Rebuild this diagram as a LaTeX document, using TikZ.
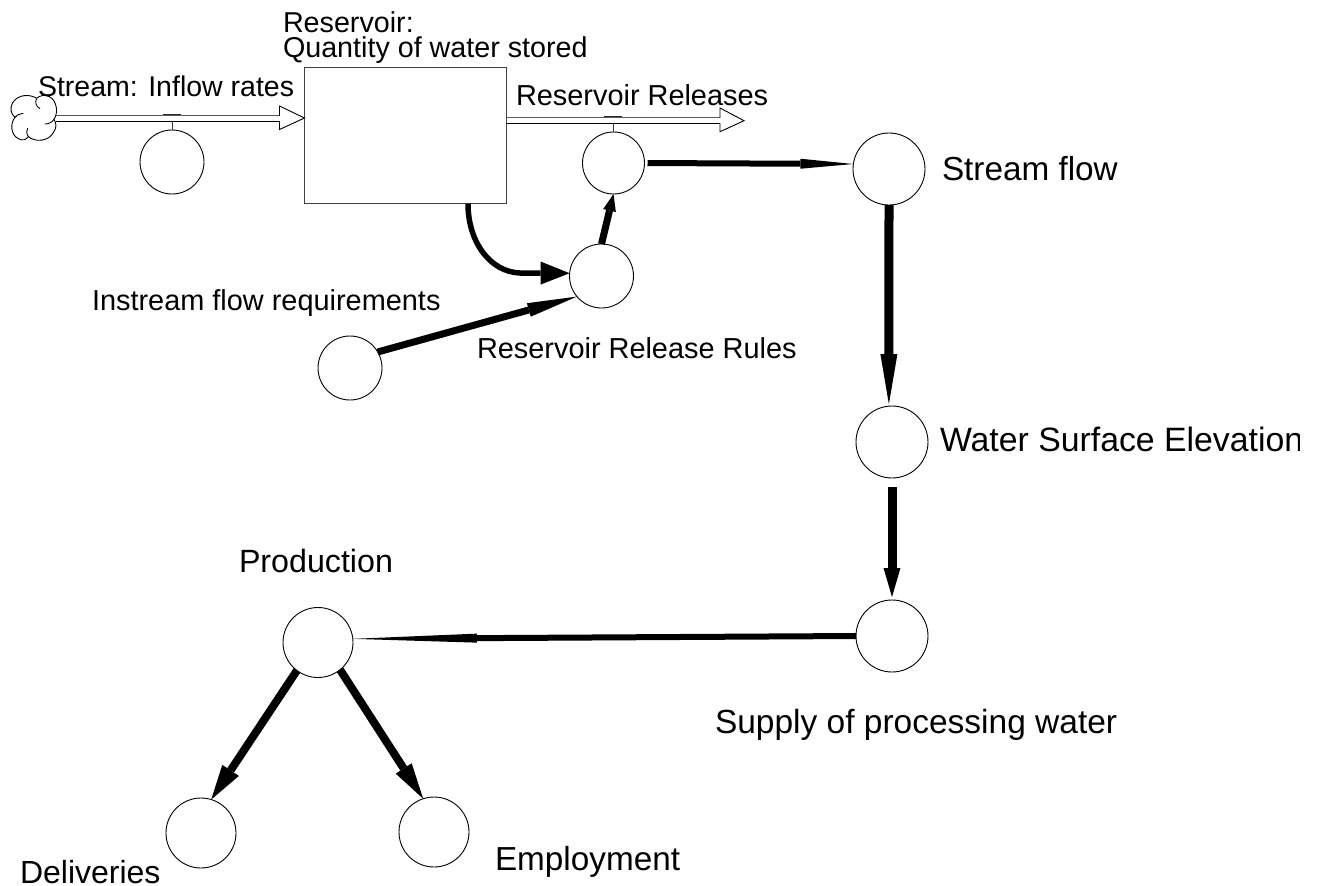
\documentclass[tikz,border=0pt]{standalone}
\usepackage{fontspec}
\setmainfont{Liberation Sans}
\usetikzlibrary{arrows.meta}
\tikzset{
  x=1pt,y=-1pt,
  lbl/.style={anchor=base west,inner sep=0pt,outer sep=0pt,font=\fontsize{#1}{25}\selectfont},
  lbl/.default=28.9,
  aux/.style={circle,draw=black,line width=0.9pt,inner sep=0pt,outer sep=0pt,minimum size=#1*2pt},
  stockbox/.style={rectangle,draw=black!75,line width=1pt,inner sep=0pt,outer sep=0pt,minimum width=201.5pt,minimum height=136.5pt},
  outline/.style={line width=0.9pt,draw=black},
  pipetop/.style={line width=1pt,draw=black!65},
  pipebot/.style={line width=1pt,draw=black},
  valvedash/.style={line width=1.4pt,draw=black!85},
  thin stem/.style={line width=0.8pt,draw=black!80},
  conn/.style n args={3}{line width=#1pt,draw=black,-{Triangle[length=#2pt,width=#3pt,line width=0pt]}},
}
\begin{document}
\begin{tikzpicture}
\useasboundingbox (0,0) rectangle (1320,886);
% stock and auxiliaries
\node[stockbox] (box) at (405.25,135.5) {};
\node[aux=32] (inflow) at (172,162) {};
\node[aux=31] (release) at (613.5,163) {};
\node[aux=32] (rules) at (601.5,276) {};
\node[aux=32] (instream) at (350,368) {};
\node[aux=36] (flow) at (889,169) {};
\node[aux=36] (water) at (892,442) {};
\node[aux=36] (supply) at (892,636) {};
\node[aux=35] (prod) at (318,642.5) {};
\node[aux=35] (deliv) at (201,833) {};
\node[aux=35] (employ) at (434,832) {};
% cloud
\begin{scope}[shift={(0,80)},x=0.3333pt,y=-0.3333pt]
\draw[outline,fill=white] (110,55) .. controls (90,42) and (55,42) .. (38,68)
  .. controls (28,85) and (33,102) .. (45,112)
  .. controls (30,130) and (32,165) .. (55,176)
  .. controls (68,183) and (78,180) .. (85,170)
  .. controls (105,187) and (145,185) .. (160,158)
  .. controls (170,145) and (170,130) .. (162,118)
  .. controls (175,100) and (172,62) .. (148,50)
  .. controls (135,43) and (120,46) .. (110,55);
\draw[outline] (110,55) .. controls (104,66) and (108,80) .. (120,86);
\draw[outline] (45,112) .. controls (50,106) and (60,100) .. (70,100);
\draw[outline] (85,170) .. controls (79,160) and (79,152) .. (83,144);
\draw[outline] (162,118) .. controls (156,127) and (146,132) .. (135,132);
\end{scope}
% inflow pipe
\coordinate (in1) at (279.5,115.5);
\coordinate (in2) at (279.5,121);
\coordinate (valveA) at (172,121);
\draw[pipetop] (56,115.5) -- (in1);
\draw[pipebot] (56,121) -- (in2);
\draw[outline,fill=white] (279.5,106) -- (304.5,118) -- (279.5,129.5) -- cycle;
\draw[draw=white,line width=4.5pt] (278,118.25) -- (281,118.25);
\draw[valvedash] (163,114.5) -- (181,114.5);
\draw[thin stem] (valveA) -- (inflow.north);
% release pipe
\coordinate (rel1) at (720,117.3);
\coordinate (rel2) at (720,123.3);
\coordinate (valveB) at (613.5,123.3);
\draw[pipetop] (box.east |- rel1) -- (rel1);
\draw[pipebot] (box.east |- rel2) -- (rel2);
\draw[outline,fill=white] (720,108) -- (744,120.7) -- (720,131.7) -- cycle;
\draw[draw=white,line width=5pt] (719,120.3) -- (722,120.3);
\draw[valvedash] (604,116.7) -- (622,116.7);
\draw[thin stem] (valveB) -- (release.north);
% connectors
\draw[conn={6}{53}{10},shorten <=3pt] (release.east) -- (flow.172);
\draw[conn={9}{50}{17},shorten >=2pt] (flow.south) -- (water.95);
\draw[conn={9}{29}{17},shorten <=9pt,shorten >=3pt] (water.south) -- (supply.north);
\draw[conn={6}{124}{9}] (supply.west) -- (prod.6);
\draw[conn={5.5}{29}{23}] ([xshift=-38pt]box.south east) .. controls +(0,38) and +(-30,-1) .. (520,273) -- (rules.175);
\draw[conn={7}{50}{14}] (instream.30) -- (rules.220);
\draw[conn={7}{17}{13}] (rules.north) -- (release.south);
\draw[conn={8}{35}{20}] (prod.233) -- (deliv.73);
\draw[conn={8}{36}{19}] (prod.309) -- (employ.108);
% labels
\node[lbl=28.7,align=left] at (283,57) {Reservoir:\\Quantity of water stored};
\node[lbl=28.5] at (38,96) {Stream: Inflow rates};
\node[lbl] at (516,105) {Reservoir Releases};
\node[lbl] at (92,310) {Instream flow requirements};
\node[lbl] at (477,358) {Reservoir Release Rules};
\node[lbl=33.3] at (942,180) {Stream flow};
\begin{scope}
\clip (930,410) rectangle (1299,470);
\node[lbl=33.8] at (940,451) {Water Surface Elevation};
\end{scope}
\node[lbl=32.2] at (239,572) {Production};
\node[lbl=33.5] at (715,733) {Supply of processing water};
\node[lbl=32] at (20,883) {Deliveries};
\node[lbl=33.3] at (495,870) {Employment};
\end{tikzpicture}
\end{document}
